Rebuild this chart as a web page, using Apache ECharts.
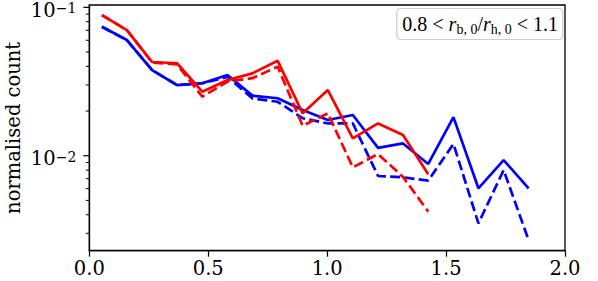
<!DOCTYPE html>
<html>
<head>
<meta charset="utf-8">
<script src="https://cdn.jsdelivr.net/npm/echarts@6/dist/echarts.min.js"></script>
<style>html,body{margin:0;padding:0;background:#fff;}#c{width:598px;height:281px;}</style>
</head>
<body>
<div id="c"></div>
<script>
// bin centres (x)
const binCenters = [0.053, 0.158, 0.264, 0.369, 0.475, 0.581, 0.686, 0.792, 0.897, 1.003, 1.108, 1.214, 1.319, 1.425, 1.531, 1.636, 1.742, 1.847];
const blueSolid  = [0.074, 0.0602, 0.0378, 0.0299, 0.0308, 0.035, 0.0254, 0.0244, 0.0203, 0.0174, 0.0188, 0.0113, 0.0121, 0.0088, 0.0182, 0.00603, 0.00935, 0.00603];
const blueDashed = [0.074, 0.0602, 0.0378, 0.0299, 0.0308, 0.034, 0.0243, 0.0231, 0.0179, 0.0165, 0.0165, 0.0073, 0.00715, 0.0068, 0.0120, 0.0035, 0.0080, 0.0027];
const redSolid   = [0.0887, 0.0703, 0.0428, 0.0420, 0.027, 0.0324, 0.0359, 0.0436, 0.0193, 0.0277, 0.0131, 0.0165, 0.0138, 0.0075];
const redDashed  = [0.0887, 0.0703, 0.0425, 0.0412, 0.025, 0.0316, 0.0333, 0.0398, 0.0159, 0.0193, 0.00835, 0.01026, 0.0072, 0.0042];
const xTicks = [0, 0.5, 1.0, 1.5, 2.0];
const yMajorTicks = [0.01, 0.1];
const yMajorLabels = ['\u22122', '\u22121'];
const yMinorTicks = [0.003, 0.004, 0.005, 0.006, 0.007, 0.008, 0.009, 0.02, 0.03, 0.04, 0.05, 0.06, 0.07, 0.08, 0.09];
const yLabel = 'normalised count';
const xMin = 0, xMax = 2, yMin = 0.00229, yMax = 0.1037;

function pairs(vals) { return vals.map((v, i) => [binCenters[i], v]); }

const chart = echarts.init(document.getElementById('c'), null, {renderer: 'svg'});
const serif = "'DejaVu Serif', serif";
const lserif = "'Liberation Serif', serif";
const tickData = yMajorTicks.map((v, i) => [xMin, v, 6, i]).concat(yMinorTicks.map(v => [xMin, v, 3.5, -1]));

chart.setOption({
  animation: false,
  backgroundColor: '#fff',
  title: {
    text: '0.8 < {i|r}{sub|b, 0}/{i|r}{sub|h, 0} < 1.1',
    right: 35, top: 8,
    padding: [4, 5, 4, 6],
    borderColor: '#cccccc', borderWidth: 1.2, borderRadius: 4,
    backgroundColor: 'rgba(255,255,255,0.8)',
    textStyle: {
      fontFamily: lserif, fontSize: 20, fontWeight: 'normal', color: '#000', lineHeight: 24,
      rich: {
        i: {fontFamily: lserif, fontStyle: 'italic', fontSize: 20, lineHeight: 24, color: '#000'},
        sub: {fontFamily: lserif, fontSize: 14, lineHeight: 15, verticalAlign: 'bottom', color: '#000'}
      }
    }
  },
  grid: {left: 89.3, right: 33, top: 5, bottom: 30.3, show: true, borderColor: '#000', borderWidth: 1.3,
    backgroundColor: 'transparent', containLabel: false, outerBoundsMode: 'none'},
  xAxis: {
    type: 'value', min: xMin, max: xMax, interval: 0.5,
    splitLine: {show: false},
    axisLine: {show: true, lineStyle: {color: '#000', width: 1.3}},
    axisTick: {show: true, inside: false, length: 6, lineStyle: {color: '#000', width: 1.2}},
    axisLabel: {fontFamily: serif, fontSize: 19.5, color: '#000', margin: 8,
      formatter: v => xTicks.some(t => Math.abs(t - v) < 1e-9) ? v.toFixed(1) : ''}
  },
  yAxis: {
    type: 'log', logBase: 10, min: yMin, max: yMax,
    name: yLabel, nameLocation: 'middle', nameGap: 66,
    nameTextStyle: {fontFamily: serif, fontSize: 19.5, lineHeight: 20, color: '#000'},
    splitLine: {show: false},
    axisLine: {show: true, lineStyle: {color: '#000', width: 1.3}},
    axisTick: {show: false},
    axisLabel: {show: false}
  },
  series: [
    {type: 'custom', silent: true, clip: false, z: 10,
      data: tickData,
      renderItem: function (params, api) {
        const p = api.coord([api.value(0), api.value(1)]);
        const len = api.value(2);
        const li = api.value(3);
        const children = [{type: 'line', shape: {x1: p[0] - len, y1: p[1], x2: p[0], y2: p[1]},
          style: {stroke: '#000', lineWidth: len > 5 ? 1.2 : 1}}];
        if (li >= 0) {
          children.push({type: 'text', style: {
            text: '{b|10}{s|' + yMajorLabels[li] + '}',
            x: p[0] - 13, y: p[1] + 3.6, align: 'right', verticalAlign: 'middle',
            rich: {
              b: {fontFamily: serif, fontSize: 19.5, lineHeight: 19, verticalAlign: 'bottom', fill: '#000'},
              s: {fontFamily: serif, fontSize: 14, lineHeight: 13, verticalAlign: 'top', fill: '#000'}
            }
          }});
        }
        return {type: 'group', children: children};
      }
    },
    {type: 'line', data: pairs(blueDashed), showSymbol: false, lineStyle: {color: '#0000ff', width: 2.7, type: [10, 4.3]}, z: 2},
    {type: 'line', data: pairs(blueSolid), showSymbol: false, lineStyle: {color: '#0000ff', width: 2.7}, z: 3},
    {type: 'line', data: pairs(redDashed), showSymbol: false, lineStyle: {color: '#ff0000', width: 2.7, type: [10, 4.3]}, z: 4},
    {type: 'line', data: pairs(redSolid), showSymbol: false, lineStyle: {color: '#ff0000', width: 2.7}, z: 5}
  ]
});
</script>
</body>
</html>
